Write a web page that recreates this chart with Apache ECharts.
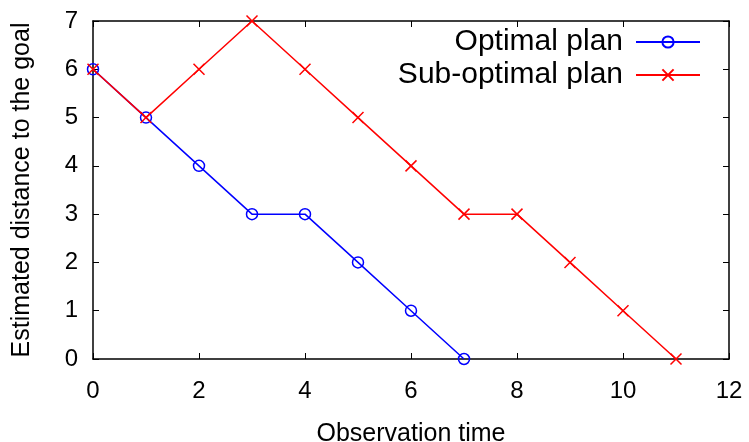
<!DOCTYPE html>
<html>
<head>
<meta charset="utf-8">
<script src="https://cdn.jsdelivr.net/npm/echarts@6/dist/echarts.min.js"></script>
<style>html,body{margin:0;padding:0;background:#fff;}#c{width:749px;height:442px;}</style>
</head>
<body>
<div id="c"></div>
<script>
const optimalX = [0, 1, 2, 3, 4, 5, 6, 7];
const optimalY = [6, 5, 4, 3, 3, 2, 1, 0];
const subX = [0, 1, 2, 3, 4, 5, 6, 7, 8, 9, 10, 11];
const subY = [6, 5, 6, 7, 6, 5, 4, 3, 3, 2, 1, 0];
const seriesNames = ['Optimal plan', 'Sub-optimal plan'];
const xTitle = 'Observation time';
const yTitle = 'Estimated distance to the goal';

const FONT = '"Liberation Sans", Arial, sans-serif';
const chart = echarts.init(document.getElementById('c'), null, {renderer: 'canvas'});
const pair = (xs, ys) => xs.map((x, i) => [x, ys[i]]);
const tickStyle = {show: true, inside: true, length: 6, lineStyle: {color: '#000', width: 1}};
const axisLine = {show: true, onZero: false, lineStyle: {color: '#000', width: 1.5}};
const crossPath = 'path://M0,0L10,10M10,0L0,10';

chart.setOption({
  animation: false,
  backgroundColor: '#fff',
  grid: {left: 93, right: 20, top: 21, bottom: 83, containLabel: false, outerBoundsMode: 'none'},
  legend: {
    orient: 'vertical', right: 48, top: 27, align: 'right', padding: 0,
    itemWidth: 64, itemHeight: 14, itemGap: 3,
    textStyle: {fontFamily: FONT, fontSize: 30, color: '#000', lineHeight: 29, padding: [0, 8, 0, 0]},
    data: seriesNames
  },
  xAxis: [{
    type: 'value', min: 0, max: 12, interval: 2,
    name: xTitle, nameLocation: 'middle', nameGap: 63,
    nameTextStyle: {fontFamily: FONT, fontSize: 25, color: '#000'},
    axisLine: axisLine, axisTick: tickStyle,
    axisLabel: {fontFamily: FONT, fontSize: 24, color: '#000', margin: 20},
    splitLine: {show: false}
  }, {
    type: 'value', min: 0, max: 12, interval: 2, position: 'top',
    axisLine: axisLine, axisTick: tickStyle, axisLabel: {show: false}, splitLine: {show: false}
  }],
  yAxis: [{
    type: 'value', min: 0, max: 7, interval: 1,
    name: yTitle, nameLocation: 'middle', nameGap: 58,
    nameTextStyle: {fontFamily: FONT, fontSize: 25, color: '#000'},
    axisLine: axisLine, axisTick: tickStyle,
    axisLabel: {fontFamily: FONT, fontSize: 24, color: '#000', margin: 15},
    splitLine: {show: false}
  }, {
    type: 'value', min: 0, max: 7, interval: 1, position: 'right',
    axisLine: axisLine, axisTick: tickStyle, axisLabel: {show: false}, splitLine: {show: false}
  }],
  series: [{
    name: seriesNames[0], type: 'line', data: pair(optimalX, optimalY),
    symbol: 'circle', symbolSize: 11, showAllSymbol: true, clip: false,
    lineStyle: {color: '#0000ff', width: 1.5},
    itemStyle: {color: 'rgba(255,255,255,0)', borderColor: '#0000ff', borderWidth: 1.5}
  }, {
    name: seriesNames[1], type: 'line', data: pair(subX, subY),
    symbol: crossPath, symbolSize: 11, showAllSymbol: true, clip: false,
    lineStyle: {color: '#ff0000', width: 1.5},
    itemStyle: {color: 'rgba(255,255,255,0)', borderColor: '#ff0000', borderWidth: 1.5}
  }]
});
</script>
</body>
</html>
